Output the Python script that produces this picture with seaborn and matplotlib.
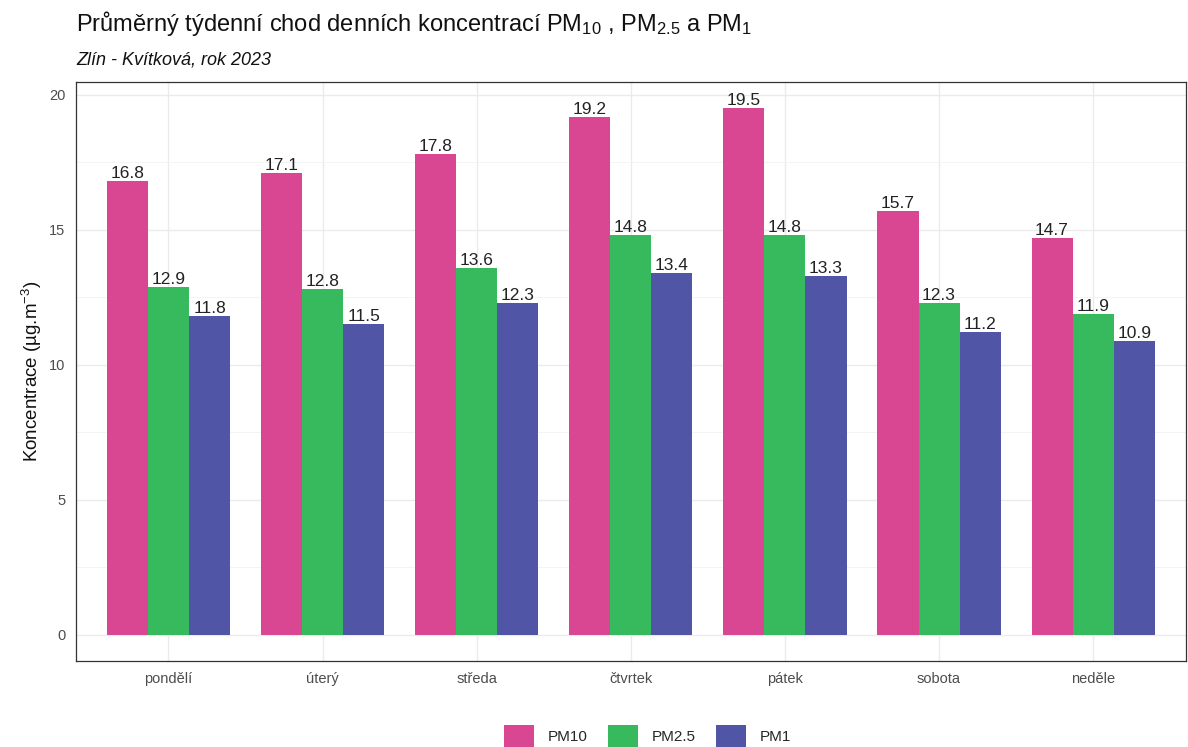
import matplotlib
matplotlib.use('Agg')
import matplotlib.pyplot as plt
from matplotlib.ticker import MultipleLocator
import seaborn as sns
import pandas as pd

dny = ['pondělí', 'úterý', 'středa', 'čtvrtek', 'pátek', 'sobota', 'neděle']
pm10 = [16.8, 17.1, 17.8, 19.2, 19.5, 15.7, 14.7]
pm25 = [12.9, 12.8, 13.6, 14.8, 14.8, 12.3, 11.9]
pm1 = [11.8, 11.5, 12.3, 13.4, 13.3, 11.2, 10.9]
slozky = ['PM10', 'PM2.5', 'PM1']
barvy = ['#d94691', '#37b95d', '#5055a6']

df = pd.DataFrame({
    'den': dny * 3,
    'slozka': [s for s in slozky for _ in dny],
    'hodnota': pm10 + pm25 + pm1,
})

sns.set_style('white')
plt.rcParams['font.family'] = ['Liberation Sans', 'DejaVu Sans']
plt.rcParams['mathtext.fontset'] = 'custom'
plt.rcParams['mathtext.rm'] = 'Liberation Sans'
plt.rcParams['mathtext.it'] = 'Liberation Sans:italic'

fig = plt.figure(figsize=(11.88, 7.47), dpi=100)
ax = fig.add_axes([0.064, 0.115, 0.934, 0.775])

sns.barplot(data=df, x='den', y='hodnota', hue='slozka', order=dny, hue_order=slozky,
            palette=barvy, width=0.8, saturation=1, ax=ax, zorder=3,
            edgecolor='none', linewidth=0)

# popisky hodnot nad sloupci
for cont in ax.containers:
    ax.bar_label(cont, fmt='%.1f', fontsize=12.5, color='#222222', padding=0)

ax.set_xlim(-0.6, 6.6)
ax.set_ylim(-0.975, 20.475)
ax.yaxis.set_major_locator(MultipleLocator(5))
ax.yaxis.set_minor_locator(MultipleLocator(2.5))
ax.grid(True, which='major', color='#ebebeb', lw=1.0, zorder=0)
ax.grid(True, which='minor', axis='y', color='#f2f2f2', lw=0.6, zorder=0)
ax.set_axisbelow(True)
for s in ax.spines.values():
    s.set_color('#333333')
    s.set_linewidth(0.9)
ax.tick_params(axis='both', which='major', length=4, color='#333333', labelsize=10.5, labelcolor='#4d4d4d')
ax.tick_params(axis='y', which='minor', length=0)

ax.set_xlabel('')
ax.set_ylabel('Koncentrace (µg.m$^{-3}$)', fontsize=13.5, color='#111111')

fig.text(0.064, 0.968, 'Průměrný týdenní chod denních koncentrací PM$_{10}$ , PM$_{2.5}$ a PM$_{1}$',
         fontsize=17, color='#111111', va='center')
fig.text(0.064, 0.92, 'Zlín - Kvítková, rok 2023', fontsize=13, style='italic',
         color='#111111', va='center')

ax.legend(loc='center', bbox_to_anchor=(0.515, -0.13), ncol=3, frameon=False,
          handlelength=2.0, handleheight=2.0, fontsize=11, columnspacing=1.3,
          handletextpad=0.9, title=None)

fig.savefig('out.png', dpi=100)
